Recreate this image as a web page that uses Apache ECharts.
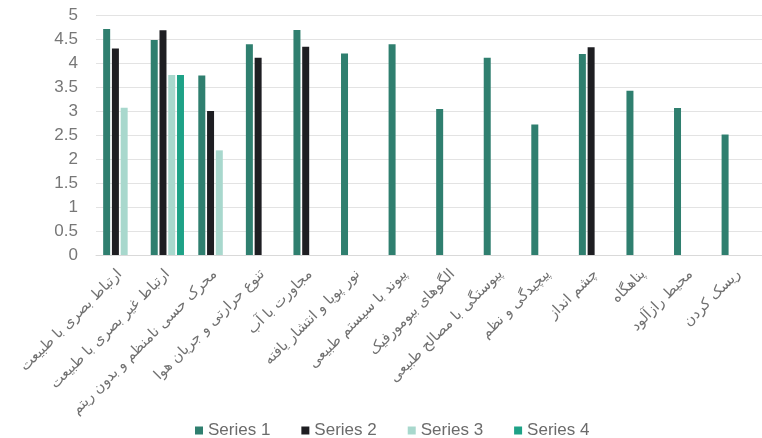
<!DOCTYPE html>
<html>
<head>
<meta charset="utf-8">
<script src="https://cdn.jsdelivr.net/npm/echarts@6/dist/echarts.min.js"></script>
<style>
html,body{margin:0;padding:0;background:#fff;}
#c{width:762px;height:438px;}
</style>
</head>
<body>
<div id="c"></div>
<script>
var categories = [
  'ارتباط بصری با طبیعت',
  'ارتباط غیر بصری با طبیعت',
  'محرک حسی نامنظم و بدون ریتم',
  'تنوع حرارتی و جریان هوا',
  'مجاورت با آب',
  'نور پویا و انتشار یافته',
  'پیوند با سیستم طبیعی',
  'الگوهای بیومورفیک',
  'پیوستگی با مصالح طبیعی',
  'پیچیدگی و نظم',
  'چشم انداز',
  'پناهگاه',
  'محیط رازآلود',
  'ریسک کردن'
];
var series1 = [4.71, 4.48, 3.74, 4.39, 4.69, 4.20, 4.39, 3.04, 4.11, 2.72, 4.19, 3.42, 3.06, 2.51];
var series2 = [4.30, 4.68, 3.00, 4.11, 4.34, null, null, null, null, null, 4.33, null, null, null];
var series3 = [3.07, 3.75, 2.18, null, null, null, null, null, null, null, null, null, null, null];
var series4 = [null, 3.75, null, null, null, null, null, null, null, null, null, null, null, null];
var seriesNames = ['Series 1', 'Series 2', 'Series 3', 'Series 4'];
var colors = ['#2f7f6f', '#1e1e22', '#a8d8cd', '#1ea287'];
var yTicks = {min: 0, max: 5, interval: 0.5};

var chart = echarts.init(document.getElementById('c'));
var data = [series1, series2, series3, series4];
chart.setOption({
  animation: false,
  backgroundColor: '#fff',
  color: colors,
  grid: {left: 96, top: 15, width: 676, height: 240},
  legend: {
    left: 190, top: 417,
    itemWidth: 8, itemHeight: 8, itemGap: 31,
    icon: 'rect',
    textStyle: {color: '#6b6b6b', fontSize: 17, fontFamily: 'Liberation Sans, Arial, sans-serif'},
    data: seriesNames
  },
  xAxis: {
    type: 'category',
    data: categories,
    axisTick: {show: false},
    axisLine: {show: true, lineStyle: {color: '#d9d9d9'}},
    axisLabel: {
      interval: 0, rotate: 45, margin: 17,
      color: '#707070', fontSize: 14.5,
      fontFamily: 'DejaVu Sans, sans-serif'
    }
  },
  yAxis: {
    type: 'value',
    min: yTicks.min, max: yTicks.max, interval: yTicks.interval,
    axisLine: {show: false},
    axisTick: {show: false},
    splitLine: {lineStyle: {color: '#e3e3e3'}},
    axisLabel: {color: '#777777', fontSize: 17, margin: 18, fontFamily: 'Liberation Sans, Arial, sans-serif'}
  },
  series: data.map(function (d, i) {
    return {
      name: seriesNames[i],
      type: 'bar',
      data: d,
      barWidth: 7,
      barGap: '25%',
      itemStyle: {color: colors[i]}
    };
  })
});
</script>
</body>
</html>
